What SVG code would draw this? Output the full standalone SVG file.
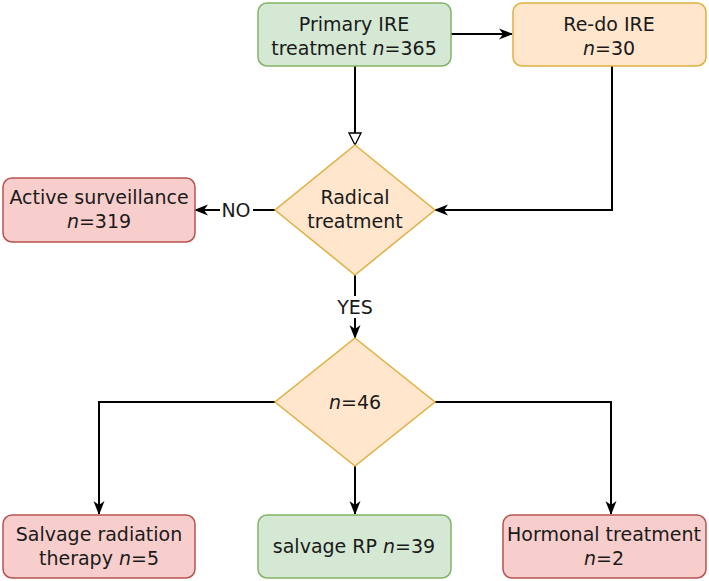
<svg xmlns="http://www.w3.org/2000/svg" width="709" height="581" viewBox="0 0 709 581">
<defs>
<style>
text{font-family:"DejaVu Sans","Liberation Sans",sans-serif;font-size:19px;fill:#1a1a1a;text-anchor:middle}
.g{fill:#d5e8d4;stroke:#82b366;stroke-width:1.5}
.o{fill:#ffe6cc;stroke:#e0b040;stroke-width:1.5}
.r{fill:#f8cecc;stroke:#b85450;stroke-width:1.5}
.c{fill:none;stroke:#000;stroke-width:2}
</style>
<marker id="a" viewBox="0 0 14 14" refX="13" refY="7" markerWidth="14" markerHeight="14" markerUnits="userSpaceOnUse" orient="auto">
<path d="M0,1.5 L14,7 L0,12.5 L4,7 Z" fill="#000"/>
</marker>
<marker id="t" viewBox="0 0 14 14" refX="13" refY="7" markerWidth="14" markerHeight="14" markerUnits="userSpaceOnUse" orient="auto">
<path d="M1,1 L13,7 L1,13 Z" fill="#fff" stroke="#000" stroke-width="1.3"/>
</marker>
</defs>
<g id="connectors">
<path class="c" d="M355,66 V145" marker-end="url(#t)"/>
<path class="c" d="M451,34 H512" marker-end="url(#a)"/>
<path class="c" d="M612,66 V210 H435" marker-end="url(#a)"/>
<path class="c" d="M275,210 H253"/>
<path class="c" d="M220,210 H195" marker-end="url(#a)"/>
<text x="236" y="217">NO</text>
<path class="c" d="M355,275 V296"/>
<path class="c" d="M355,318 V338" marker-end="url(#a)"/>
<text x="355" y="314">YES</text>
<path class="c" d="M275,402 H99 V514" marker-end="url(#a)"/>
<path class="c" d="M355,466 V514" marker-end="url(#a)"/>
<path class="c" d="M435,402 H611 V514" marker-end="url(#a)"/>
</g>
<g id="primary">
<rect class="g" x="258" y="3" width="193" height="63" rx="9"/>
<text x="354" y="31">Primary IRE</text>
<text x="354" y="55">treatment <tspan font-style="italic">n</tspan>=365</text>
</g>
<g id="redo">
<rect class="o" x="513" y="3" width="193" height="63" rx="9"/>
<text x="609" y="31">Re-do IRE</text>
<text x="609" y="55"><tspan font-style="italic">n</tspan>=30</text>
</g>
<g id="radical">
<path class="o" d="M355,145 L435,210 L355,275 L275,210 Z"/>
<text x="355" y="204">Radical</text>
<text x="355" y="228">treatment</text>
</g>
<g id="active">
<rect class="r" x="3" y="178" width="192" height="64" rx="9"/>
<text x="99" y="204">Active surveillance</text>
<text x="99" y="228"><tspan font-style="italic">n</tspan>=319</text>
</g>
<g id="n46">
<path class="o" d="M355,338 L435,402 L355,466 L275,402 Z"/>
<text x="355" y="409"><tspan font-style="italic">n</tspan>=46</text>
</g>
<g id="radiation">
<rect class="r" x="3" y="515" width="192" height="63" rx="9"/>
<text x="99" y="541">Salvage radiation</text>
<text x="99" y="565">therapy <tspan font-style="italic">n</tspan>=5</text>
</g>
<g id="rp">
<rect class="g" x="258" y="515" width="193" height="63" rx="9"/>
<text x="354" y="553">salvage RP <tspan font-style="italic">n</tspan>=39</text>
</g>
<g id="hormonal">
<rect class="r" x="503" y="515" width="203" height="63" rx="9"/>
<text x="604" y="541">Hormonal treatment</text>
<text x="604" y="565"><tspan font-style="italic">n</tspan>=2</text>
</g>
</svg>
